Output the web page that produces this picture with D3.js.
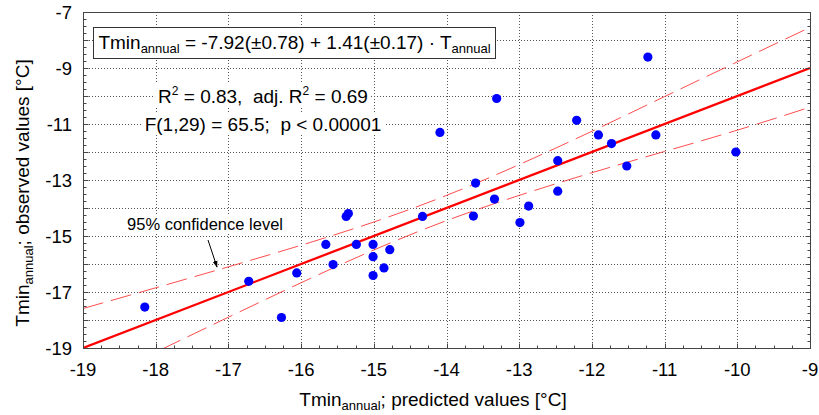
<!DOCTYPE html>
<html>
<head>
<meta charset="utf-8">
<script src="https://cdn.jsdelivr.net/npm/d3@7/dist/d3.min.js"></script>
<style>
  body { margin: 0; background: #fff; }
  svg { display: block; }
</style>
</head>
<body>
<script>
const predicted = [-11.23, -13.31, -14.09, -12.21, -11.91, -11.12, -11.73, -10.02, -12.47, -11.52,
  -13.60, -12.47, -13.34, -12.87, -13.63, -12.99, -14.33, -15.38, -15.35, -15.66,
  -15.24, -15.01, -14.78, -15.01, -15.56, -14.86, -16.06, -15.01, -16.72, -18.15, -16.27];
const observed = [-8.61, -10.09, -11.30, -10.87, -11.39, -11.39, -11.70, -12.00, -12.31, -12.50,
  -13.11, -13.40, -13.68, -13.93, -14.29, -14.52, -14.30, -14.30, -14.20, -15.30,
  -15.30, -15.30, -15.49, -15.74, -16.02, -16.14, -16.32, -16.41, -16.62, -17.54, -17.91];

// 回归线与 95% 置信带
const fitX = [-19, -9];
const fitY = [-19, -9];
const bandX = [-19, -18, -17, -16, -15, -14, -13, -12, -11, -10, -9];
const bandUpper = [-17.59, -16.85, -16.10, -15.33, -14.50, -13.55, -12.45, -11.26, -10.02, -8.78, -7.55];
const bandLower = [-20.41, -19.15, -17.90, -16.67, -15.50, -14.45, -13.55, -12.74, -11.98, -11.22, -10.40];

// 刻度标签
const xTickLabels = [-19, -18, -17, -16, -15, -14, -13, -12, -11, -10, -9];
const yTickLabels = [-19, -17, -15, -13, -11, -9, -7];
const yGrid = [-18, -17, -16, -15, -14, -13, -12, -11, -10, -9, -8];

const width = 819, height = 415;
const margin = {left: 83, right: 9, top: 12, bottom: 67};

const x = d3.scaleLinear().domain([-19, -9]).range([margin.left, width - margin.right]);
const y = d3.scaleLinear().domain([-19, -7]).range([height - margin.bottom, margin.top]);

const svg = d3.select("body").append("svg")
  .attr("width", width)
  .attr("height", height)
  .style("font-family", "'Liberation Sans', Arial, sans-serif");

const defs = svg.append("defs");
defs.append("clipPath").attr("id", "plot")
  .append("rect")
  .attr("x", x(-19)).attr("y", y(-7))
  .attr("width", x(-9) - x(-19)).attr("height", y(-19) - y(-7));

defs.append("marker")
  .attr("id", "arrow")
  .attr("viewBox", "0 0 10 10")
  .attr("refX", 9).attr("refY", 5)
  .attr("markerWidth", 7).attr("markerHeight", 7)
  .attr("orient", "auto")
  .append("path")
  .attr("d", "M0,1.5 L10,5 L0,8.5 Z")
  .attr("fill", "#000");

// 网格线
const grid = svg.append("g")
  .attr("stroke", "#555")
  .attr("stroke-width", 1)
  .attr("stroke-dasharray", "1,2");
grid.selectAll(".gx")
  .data(xTickLabels.slice(1, -1))
  .join("line")
  .attr("x1", d => Math.round(x(d)) + 0.5).attr("x2", d => Math.round(x(d)) + 0.5)
  .attr("y1", y(-7)).attr("y2", y(-19));
grid.selectAll(".gy")
  .data(yGrid)
  .join("line")
  .attr("y1", d => Math.round(y(d)) + 0.5).attr("y2", d => Math.round(y(d)) + 0.5)
  .attr("x1", x(-19)).attr("x2", x(-9));

// 置信带与回归线
const plot = svg.append("g").attr("clip-path", "url(#plot)");
const bandLine = d3.line().curve(d3.curveNatural);
[bandUpper, bandLower].forEach(vals => {
  plot.append("path")
    .attr("d", bandLine(bandX.map((v, i) => [x(v), y(vals[i])])))
    .attr("fill", "none")
    .attr("stroke", "#ff2020")
    .attr("stroke-opacity", 0.8)
    .attr("stroke-width", 1)
    .attr("stroke-dasharray", "21,8");
});
plot.append("path")
  .attr("d", d3.line()(fitX.map((v, i) => [x(v), y(fitY[i])])))
  .attr("fill", "none")
  .attr("stroke", "#f00")
  .attr("stroke-width", 2.3);

// 数据点
plot.append("g")
  .selectAll("circle")
  .data(predicted.map((p, i) => [p, observed[i]]))
  .join("circle")
  .attr("cx", d => x(d[0]))
  .attr("cy", d => y(d[1]))
  .attr("r", 4.6)
  .attr("fill", "#0000ff");

// 坐标框与刻度（朝内）
const frame = svg.append("g").attr("stroke", "#444").attr("stroke-width", 1);
const x0 = Math.round(x(-19)) + 0.5, x1 = Math.round(x(-9)) + 0.5;
const y0 = Math.round(y(-19)) + 0.5, y1 = Math.round(y(-7)) + 0.5;
frame.append("rect")
  .attr("x", x0).attr("y", y1).attr("width", x1 - x0).attr("height", y0 - y1)
  .attr("fill", "none");
const xMinor = d3.range(-19, -9 + 0.001, 0.25);
const yMinor = d3.range(-19, -7 + 0.001, 0.25);
frame.selectAll(".tx")
  .data(xMinor)
  .join("line")
  .attr("x1", d => Math.round(x(d)) + 0.5).attr("x2", d => Math.round(x(d)) + 0.5)
  .attr("y1", y0).attr("y2", d => y0 - (Number.isInteger(d) ? 5 : 3));
[x0, x1].forEach((ax, k) => {
  frame.append("g").selectAll("line")
    .data(yMinor)
    .join("line")
    .attr("y1", d => Math.round(y(d)) + 0.5).attr("y2", d => Math.round(y(d)) + 0.5)
    .attr("x1", ax)
    .attr("x2", d => ax + (k === 0 ? 1 : -1) * (Number.isInteger(d) ? 5 : 3));
});

// 刻度标签
svg.append("g")
  .attr("font-size", 18.5)
  .attr("fill", "#000")
  .attr("text-anchor", "middle")
  .selectAll("text")
  .data(xTickLabels)
  .join("text")
  .attr("x", d => x(d))
  .attr("y", 376)
  .text(d => d);
svg.append("g")
  .attr("font-size", 18.5)
  .attr("text-anchor", "end")
  .selectAll("text")
  .data(yTickLabels)
  .join("text")
  .attr("x", 72)
  .attr("y", d => y(d) + 6.5)
  .text(d => d);

// 带下标的文字：parts = [[文本, 是否下标], ...]
function subText(sel, parts, size, subSize) {
  let shifted = false;
  parts.forEach(([t, sub]) => {
    const dy = sub ? 4 : (shifted ? -4 : 0);
    shifted = !!sub;
    sel.append("tspan")
      .attr("font-size", sub ? subSize : size)
      .attr("dy", dy)
      .text(t);
  });
}
const xTitle = svg.append("text")
  .attr("x", 433).attr("y", 406)
  .attr("text-anchor", "middle")
  .attr("font-size", 19)
  .style("white-space", "pre");
subText(xTitle, [["Tmin"], ["annual", true], ["; predicted values [°C]"]], 19, 13);

const yTitle = svg.append("text")
  .attr("transform", "translate(29,193) rotate(-90)")
  .attr("text-anchor", "middle")
  .attr("font-size", 19)
  .style("white-space", "pre");
subText(yTitle, [["Tmin"], ["annual", true], ["; observed values [°C]"]], 19, 13);

// 方程框
svg.append("rect")
  .attr("x", 93.5).attr("y", 27.5).attr("width", 402).attr("height", 31)
  .attr("fill", "#fff").attr("stroke", "#333");
const eq = svg.append("text")
  .attr("x", 294.5).attr("y", 49)
  .attr("text-anchor", "middle")
  .attr("font-size", 19)
  .style("white-space", "pre");
subText(eq, [["Tmin"], ["annual", true], [" = -7.92(±0.78) + 1.41(±0.17) · T"], ["annual", true]], 19, 13);

// 统计量文字（白底）
function labelWithBg(tx, ty, size, build) {
  const g = svg.append("g");
  const rect = g.append("rect").attr("fill", "#fff");
  const t = g.append("text").attr("x", tx).attr("y", ty)
    .attr("text-anchor", "middle").attr("font-size", size)
    .style("white-space", "pre");
  build(t);
  const b = t.node().getBBox();
  rect.attr("x", b.x - 3).attr("y", b.y).attr("width", b.width + 6).attr("height", b.height);
  return t;
}
labelWithBg(263, 103, 19, t => {
  t.append("tspan").text("R");
  t.append("tspan").attr("font-size", 12).attr("dy", -8).text("2");
  t.append("tspan").attr("dy", 8).text(" = 0.83,  adj. R");
  t.append("tspan").attr("font-size", 12).attr("dy", -8).text("2");
  t.append("tspan").attr("dy", 8).text(" = 0.69");
});
labelWithBg(263, 131, 19, t => {
  t.append("tspan").text("F(1,29) = 65.5;  p < 0.00001");
});

// 置信带标注
labelWithBg(205, 230, 16.5, t => t.text("95% confidence level"));
svg.append("line")
  .attr("x1", 208).attr("y1", 240)
  .attr("x2", 217).attr("y2", 267)
  .attr("stroke", "#000").attr("stroke-width", 1)
  .attr("marker-end", "url(#arrow)");
</script>
</body>
</html>
